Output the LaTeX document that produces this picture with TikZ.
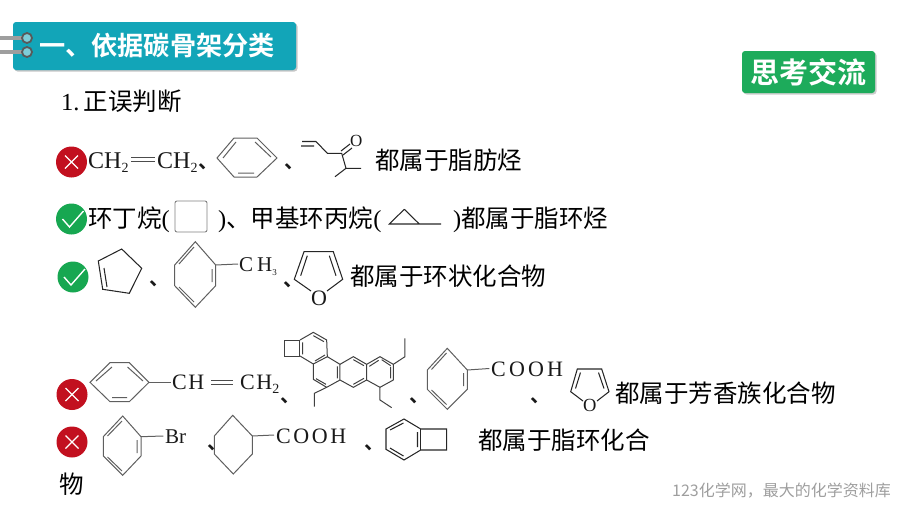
\documentclass[tikz,border=0pt]{standalone}
\usepackage{fontspec}
\setmainfont{Liberation Serif}
\newfontfamily\cjk{Noto Sans CJK SC}
\newfontfamily\cjkb{Noto Sans CJK SC Bold}
\usetikzlibrary{shadows}
\definecolor{headteal}{HTML}{12A5B8}
\definecolor{thinkgreen}{HTML}{1DAB5B}
\definecolor{markred}{HTML}{C2101F}
\definecolor{markgreen}{HTML}{17A751}
\definecolor{bondgray}{HTML}{5F5F5F}
\tikzset{bond/.style={draw, bondgray, line width=1pt}}
\tikzset{blackbond/.style={draw, black!85, line width=1.05pt}}
\tikzset{say/.style={anchor=base west, inner sep=0pt, font=\fontsize{24.5}{28}\selectfont\cjk, text=black}}
\tikzset{chem/.style={anchor=base west, inner sep=0pt, font=\fontsize{22}{26}\selectfont, text=black!90}}
\tikzset{dun/.style={anchor=base west, inner sep=0pt, text height=5pt, text depth=1pt, font=\fontsize{20}{24}\selectfont\cjkb, text=black!90}}
\tikzset{wrongmark/.style={circle, fill=markred, minimum size=31pt, inner sep=0pt, path picture={
  \draw[white, line width=1.3pt] ([shift={(-6.5,-6.5)}]path picture bounding box.center) -- ([shift={(6.5,6.5)}]path picture bounding box.center)
  ([shift={(-6.5,6.5)}]path picture bounding box.center) -- ([shift={(6.5,-6.5)}]path picture bounding box.center);}}}
\tikzset{rightmark/.style={circle, fill=markgreen, minimum size=31pt, inner sep=0pt, path picture={
  \draw[white, line width=1.4pt] ([shift={(-9,0)}]path picture bounding box.center) -- ([shift={(-2,8)}]path picture bounding box.center) -- ([shift={(12,-8)}]path picture bounding box.center);}}}
\tikzset{binder/.style={circle, draw=black!65, line width=1.8pt, fill=headteal!55!white, minimum size=10pt, inner sep=0pt}}
\newcommand{\sub}[1]{\raisebox{-4pt}{\fontsize{14}{14}\selectfont #1}}

\begin{document}
\begin{tikzpicture}[x=1pt, y=-1pt]
    \useasboundingbox (0,0) rectangle (900,506);
    % title bar
    \node[draw=none, rounded corners=3pt, fill=headteal, minimum width=283pt, minimum height=48pt, inner sep=0pt, drop shadow={shadow xshift=1.5pt, shadow yshift=-1.5pt, opacity=0.45}] (headbar) at (154.5,46) {};
    \draw[line width=4.5pt, black!38] (0,38) -- (27,38) (0,52) -- (27,52);
    \node[binder] (ringA) at (27,38) {};
    \node[binder] (ringB) at (27,52) {};
    \node[anchor=base west, inner sep=0pt, text=white, font=\fontsize{26.2}{30}\selectfont\cjkb] (headtext) at (39,55.5) {一、依据碳骨架分类};
    \node[rounded corners=3pt, fill=thinkgreen, minimum width=133pt, minimum height=42pt, inner sep=0pt, drop shadow={shadow xshift=1.5pt, shadow yshift=-1.5pt, opacity=0.4}] (thinkbox) at (808.5,72) {};
    \node[anchor=base, inner sep=0pt, text=white, font=\fontsize{29}{30}\selectfont\cjkb] (thinktext) at (808,83) {思考交流};
    \node[say] (question) at (61,110) {{\rmfamily 1.}\kern4pt 正误判断};

    % row one
    \node[wrongmark] (markA) at (71.5,162) {};
    \node[chem, font=\fontsize{24}{26}\selectfont] (ethene) at (88,168) {CH\sub{2}};
    \node[chem, font=\fontsize{24}{26}\selectfont] (etheneb) at (157,168) {CH\sub{2}};
    \draw[bond, black!70] (131,157.5) -- (155,157.5) (131,161) -- (155,161);
    \node[dun] (dunA) at (198.5,168.5) {、};
    \draw[bond] (217,158) -- (234,138) -- (257,138) -- (277,158) -- (257,177) -- (234,177) -- cycle;
    \draw[bond] (223,158) -- (236,142) (255,142) -- (271,157) (238,173) -- (254,173);
    \node[dun] (dunB) at (284,168.5) {、};
    \draw[blackbond] (302,141.5) -- (316,141.5) -- (327.3,153.3) -- (341.7,153.3) -- (346,168.3) -- (361,168.3)
        (346,168.3) -- (335,176.7) (301,146) -- (314,146);
    \draw[blackbond] (341,151) -- (350,144) (343,155) -- (352,148);
    \node[chem, font=\fontsize{17}{20}\selectfont] (oxoA) at (350,146.5) {O};
    \node[say] (textA) at (375,169) {都属于脂肪烃};

    % row two
    \node[rightmark] (markB) at (71.5,219) {};
    \node[say] (textB) at (88,227) {环丁烷{\rmfamily (}};
    \draw[black!50, line width=0.9pt, rounded corners=2pt, fill=white] (175,201) rectangle (207,232);
    \node[say] (textC) at (218,227) {{\rmfamily )}、甲基环丙烷{\rmfamily (}};
    \draw[blackbond] (404.3,209.3) -- (389.3,224) -- (441,224) (404.3,209.3) -- (419.3,224);
    \node[say] (textD) at (453,227) {{\rmfamily )}都属于脂环烃};

    % row three
    \node[rightmark] (markC) at (73,277) {};
    \draw[blackbond] (98.3,261) -- (121.7,249) -- (141.7,268.3) -- (129.3,293.3) -- (102.7,289.3) -- cycle;
    \draw[blackbond] (104,268) -- (107,287);
    \node[dun] (dunC) at (149,285.5) {、};
    \coordinate (tolUR) at (215.7,265);
    \draw[bond] (195.3,241.7) -- (tolUR) -- (215.7,285.7) -- (195.3,307.3) -- (174.7,285.7) -- (174.7,265) -- cycle;
    \draw[bond] (179,264) -- (194,247) (212,269) -- (212,282) (179,287) -- (194,302);
    \node[chem, font=\fontsize{21}{24}\selectfont] (tolCH) at (239,271) {C\kern4pt H\sub{\fontsize{9}{10}\selectfont 3}};
    \draw[bond] (tolUR) -- (238,264);
    \node[dun] (dunD) at (283,286) {、};
    \draw[blackbond] (311,291) -- (294.3,279.3) -- (304,251.7) -- (333.3,251.7) -- (342.7,279.3) -- (327,291);
    \draw[blackbond] (300.7,275.7) -- (307.3,255.7) (336,275.7) -- (329.3,255.7);
    \node[chem] (oxoB) at (311,305) {O};
    \node[say] (textE) at (350,285) {都属于环状化合物};

    % row four
    \node[wrongmark] (markD) at (72,394.5) {};
    \coordinate (styR) at (149,382.3);
    \draw[bond] (90,382.3) -- (110,362.7) -- (129.3,362.7) -- (styR) -- (129.3,401.7) -- (110,401.7) -- cycle;
    \draw[bond] (96,381) -- (112,367) (127.5,367) -- (143,381) (112,397.5) -- (127,397.5);
    \draw[bond] (styR) -- (170.7,382.3);
    \node[chem] (styCH) at (172,389.5) {C\kern1.5pt H};
    \draw[bond, black!70] (211,380.5) -- (233,380.5) (211,384.5) -- (233,384.5);
    \node[chem] (styCHb) at (240,389.5) {C\kern1.5pt H\sub{2}};
    \node[dun] (dunE) at (280.5,402.5) {、};
    % big ring system
    \begin{scope}[shift={(270,325)}, x=0.3333pt, y=-0.3333pt]
      \draw[bond, black!75] (42,45) -- (90,45) -- (90,93) -- (42,93) -- cycle;
      \draw[bond, black!75] (90,45) -- (130,22) -- (170,45) -- (172,95) -- (130,117) -- (90,93);
      \draw[bond, black!75] (172,95) -- (210,118) -- (210,165) -- (170,187) -- (130,163) -- (130,117);
      \draw[bond, black!75] (210,118) -- (250,95) -- (290,118) -- (290,165) -- (250,187) -- (210,165);
      \draw[bond, black!75] (290,118) -- (330,95) -- (370,118) -- (370,165) -- (330,187) -- (290,165);
      \draw[bond, black!75] (130,32) -- (162,50) (98,52) -- (98,88) (135,108) -- (165,90)
          (138,161) -- (168,178) (202,124) -- (202,160)
          (250,104) -- (282,122) (250,178) -- (282,160)
          (335,104) -- (362,122) (362,126) -- (362,160) (298,124) -- (326,106);
      \draw[bond, black!75] (370,118) -- (405,95) -- (405,40) (330,187) -- (330,225) -- (365,248)
          (170,187) -- (133,205) -- (133,245);
    \end{scope}
    \node[dun] (dunG) at (409,402.7) {、};
    \coordinate (benUR) at (467.3,370);
    \draw[bond] (447.3,348.3) -- (benUR) -- (467.3,389.3) -- (447.3,409.3) -- (427.3,389.3) -- (427.3,370) -- cycle;
    \draw[bond] (431.5,369.5) -- (446.5,353) (463.5,373) -- (463.5,386) (431.5,390) -- (446.5,404.5);
    \draw[bond] (benUR) -- (489.3,368.5);
    \node[chem] (acidA) at (491,376) {C\kern3.2pt O\kern3.2pt O\kern3.2pt H};
    \node[dun] (dunH) at (530.5,402.3) {、};
    \draw[blackbond] (583,401) -- (570.7,391.7) -- (577.3,369) -- (601.7,369) -- (609,391.7) -- (597,401);
    \draw[blackbond] (575.5,388.5) -- (580.5,372.5) (604,388.5) -- (598.5,372.5);
    \node[chem, font=\fontsize{18.5}{22}\selectfont] (oxoC) at (583,411.7) {O};
    \node[say] (textF) at (615,402) {都属于芳香族化合物};

    % row five
    \node[wrongmark] (markE) at (72,442) {};
    \coordinate (broUR) at (141,436.7);
    \draw[bond] (122.7,416) -- (broUR) -- (141,456) -- (122.7,475.3) -- (103.3,456) -- (103.3,436.7) -- cycle;
    \draw[bond] (107.5,436) -- (122,421) (137,440) -- (137,453) (107.5,457) -- (122,471);
    \draw[bond] (broUR) -- (163.3,436);
    \node[chem, font=\fontsize{21}{24}\selectfont] (bromo) at (165,443.3) {Br};
    \node[dun] (dunI) at (207,449.3) {、};
    \coordinate (hexUR) at (252.3,436);
    \draw[bond] (232.7,415.3) -- (hexUR) -- (252.3,454) -- (233.3,474) -- (214.3,454) -- (214.3,436) -- cycle;
    \draw[bond] (hexUR) -- (274,435);
    \node[chem] (acidB) at (276,443) {C\kern2.6pt O\kern2.6pt O\kern2.6pt H};
    \node[dun] (dunJ) at (364,449) {、};
    \draw[blackbond] (404,419) -- (420.7,429) -- (446.7,429) -- (446.7,450) -- (420.7,450) -- (404,460) -- (386,449.3) -- (386,429) -- cycle;
    \draw[blackbond] (420.7,429) -- (420.7,450);
    \draw[blackbond] (390,430) -- (403.5,423) (417.5,432) -- (417.5,447) (390,448) -- (403.5,456);
    \node[say] (textG) at (478,449) {都属于脂环化合};
    \node[say] (textH) at (59,493) {物};

    \node[anchor=base east, inner sep=0pt, text=black!38, font=\fontsize{16}{18}\selectfont\cjk] (siteword) at (891,496.5) {123化学网，最大的化学资料库};
\end{tikzpicture}
\end{document}
